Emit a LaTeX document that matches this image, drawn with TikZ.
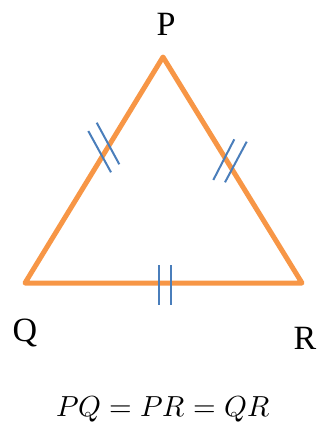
\documentclass[tikz,border=0pt]{standalone}
\usepackage{fontspec}
\usepackage{unicode-math}
\setmainfont{Liberation Serif}
\usepackage{tikz}
\usetikzlibrary{positioning,calc}
\definecolor{triorange}{HTML}{F79646}
\definecolor{tickblue}{HTML}{4A7EBB}
\tikzset{
  side/.style={draw=triorange, line width=5pt, line join=round, line cap=round},
  tick/.style={draw=tickblue, line width=2pt},
  vlab/.style={font=\fontsize{34}{40}\selectfont, anchor=base, inner sep=0pt},
  eqn/.style={font=\fontsize{29}{35}\selectfont, anchor=base, inner sep=0pt}
}

\begin{document}
\begin{tikzpicture}[x=1pt, y=-1pt]
\useasboundingbox (0,0) rectangle (321,426);
% vertices
\coordinate (P) at (163,57);
\coordinate (Q) at (25,283);
\coordinate (R) at (302,283);
\draw[side] (P) -- (Q) -- (R) -- cycle;
% equal-side marks
\coordinate (l1a) at (88.3,131);  \coordinate (l1b) at (111,172.3);
\coordinate (l2a) at (96.7,122.7); \coordinate (l2b) at (119.3,164.3);
\coordinate (r1a) at (213.3,180); \coordinate (r1b) at (234.3,139.3);
\coordinate (r2a) at (225,182.3); \coordinate (r2b) at (246.7,141.7);
\coordinate (b1a) at (159,265);   \coordinate (b1b) at (159,305);
\coordinate (b2a) at (170.7,265); \coordinate (b2b) at (170.7,305);
\draw[tick] (l1a) -- (l1b);
\draw[tick] (l2a) -- (l2b);
\draw[tick] (r1a) -- (r1b);
\draw[tick] (r2a) -- (r2b);
\draw[tick] (b1a) -- (b1b);
\draw[tick] (b2a) -- (b2b);
% labels
\node[vlab] (Plab) at (166,35) {P};
\node[vlab] (Qlab) at (25,341.7) {Q};
\node[vlab] (Rlab) at (305,349) {R};
\node[eqn] (rel) at (163,416.7) {$PQ=PR=QR$};
\end{tikzpicture}
\end{document}
